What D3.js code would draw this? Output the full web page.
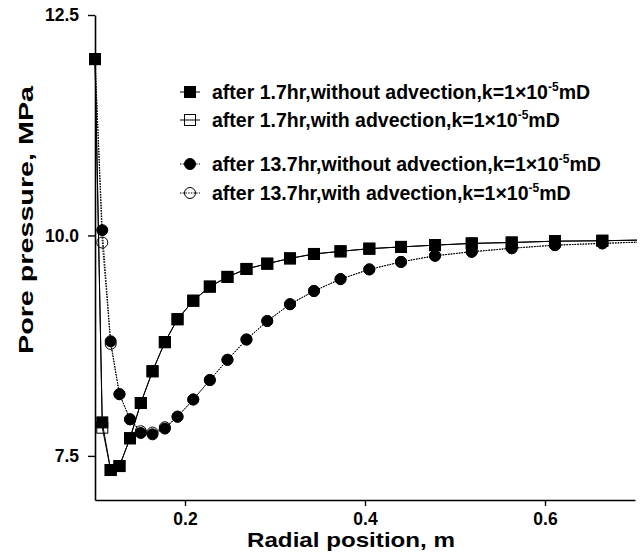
<!DOCTYPE html>
<html>
<head>
<meta charset="utf-8">
<script src="https://cdn.jsdelivr.net/npm/d3@7"></script>
<style>
  body { margin: 0; background: #fff; }
  svg { display: block; }
  text { font-family: Arial, "Liberation Sans", Helvetica, sans-serif; font-weight: bold; fill: #000; }
</style>
</head>
<body>
<svg id="chart" width="642" height="560"></svg>
<script>
// Radial positions of the computed nodes (m)
const radius = [0.1, 0.1081, 0.1174, 0.1272, 0.1389, 0.1509, 0.1639, 0.1776, 0.1917, 0.2092,
  0.2276, 0.2472, 0.2683, 0.2914, 0.3167, 0.3433, 0.3728, 0.4048, 0.44, 0.4778,
  0.5186, 0.563, 0.6111, 0.6637, 0.72];

// Pore pressure (MPa) after 1.7 hr
const p17NoAdv = [12.0, 7.88, 7.34, 7.385, 7.70, 8.10, 8.46, 8.79, 9.05, 9.26,
  9.42, 9.53, 9.62, 9.68, 9.74, 9.79, 9.82, 9.85, 9.87, 9.89,
  9.91, 9.92, 9.935, 9.94, 9.95];
const p17Adv = [12.0, 7.82, 7.34, 7.385, 7.70, 8.10, 8.46, 8.79, 9.05, 9.26,
  9.42, 9.53, 9.62, 9.68, 9.74, 9.79, 9.82, 9.85, 9.87, 9.89,
  9.91, 9.92, 9.935, 9.94, 9.95];

// Pore pressure (MPa) after 13.7 hr
const p137NoAdv = [12.0, 10.06, 8.80, 8.20, 7.915, 7.76, 7.745, 7.81, 7.945, 8.14,
  8.36, 8.59, 8.82, 9.03, 9.22, 9.37, 9.505, 9.615, 9.70, 9.77,
  9.815, 9.855, 9.89, 9.91, 9.93];
const p137Adv = [12.0, 9.92, 8.77, 8.20, 7.915, 7.78, 7.765, 7.825, 7.945, 8.14,
  8.36, 8.59, 8.82, 9.03, 9.22, 9.37, 9.505, 9.615, 9.70, 9.77,
  9.815, 9.855, 9.89, 9.91, 9.93];

const xTicks = [0.2, 0.4, 0.6];
const yTicks = [7.5, 10.0, 12.5];

const legendLabels = [
  "after 1.7hr,without advection,k=1\u00d710",
  "after 1.7hr,with advection,k=1\u00d710",
  "after 13.7hr,without advection,k=1\u00d710",
  "after 13.7hr,with advection,k=1\u00d710"
];
const legendExp = "-5";
const legendUnit = "mD";

const xTitle = "Radial position, m";
const yTitle = "Pore pressure, MPa";

// ---- layout ----
const svg = d3.select("#chart");
const x = d3.scaleLinear().domain([0.1, 0.7]).range([95, 635]);
const y = d3.scaleLinear().domain([7, 12.5]).range([500, 15]);

const series = [
  { values: p17Adv,    shape: "square", filled: false, dash: null },
  { values: p17NoAdv,  shape: "square", filled: true,  dash: null },
  { values: p137Adv,   shape: "circle", filled: false, dash: "1.5,1.2" },
  { values: p137NoAdv, shape: "circle", filled: true,  dash: "1.5,1.2" }
];
const legendSeries = [series[1], series[0], series[3], series[2]];

svg.append("defs").append("clipPath").attr("id", "plotClip")
  .append("rect").attr("x", 0).attr("y", 0).attr("width", 637).attr("height", 560);

const plot = svg.append("g").attr("clip-path", "url(#plotClip)");

const line = d3.line().x((d, i) => x(radius[i])).y(d => y(d));

function drawMarker(g, s, cx, cy) {
  if (s.shape === "square") {
    g.append("rect")
      .attr("x", cx - 5.5).attr("y", cy - 5.5)
      .attr("width", 11).attr("height", 11)
      .attr("fill", s.filled ? "#000" : "none")
      .attr("stroke", "#000").attr("stroke-width", 1);
  } else {
    g.append("circle")
      .attr("cx", cx).attr("cy", cy).attr("r", 5.5)
      .attr("fill", s.filled ? "#000" : "none")
      .attr("stroke", "#000").attr("stroke-width", 1);
  }
}

series.forEach(s => {
  plot.append("path")
    .datum(s.values)
    .attr("d", line)
    .attr("fill", "none")
    .attr("stroke", "#000")
    .attr("stroke-width", 1)
    .attr("stroke-dasharray", s.dash);
  const mg = plot.append("g");
  s.values.forEach((v, i) => drawMarker(mg, s, x(radius[i]), y(v)));
});

// ---- axes ----
const xAxis = svg.append("g")
  .attr("transform", "translate(0,500)")
  .call(d3.axisBottom(x).tickValues(xTicks).tickFormat(d3.format(".1f"))
    .tickSize(6).tickPadding(7).tickSizeOuter(0));
const yAxis = svg.append("g")
  .attr("transform", "translate(95,0)")
  .call(d3.axisLeft(y).tickValues(yTicks).tickFormat(d3.format(".1f"))
    .tickSize(7).tickPadding(9).tickSizeOuter(0));

[xAxis, yAxis].forEach(a => {
  a.attr("font-family", null).attr("font-size", 17);
  a.selectAll("path.domain").attr("stroke-width", 1.6);
  a.selectAll(".tick line").attr("stroke-width", 1.4);
  a.selectAll("text").attr("font-size", 17).style("font-size", "17.5px");
});

svg.append("text")
  .attr("x", 247).attr("y", 547)
  .attr("textLength", 208).attr("lengthAdjust", "spacingAndGlyphs")
  .style("font-size", "21px")
  .text(xTitle);

svg.append("text")
  .attr("transform", "translate(33,354) rotate(-90)")
  .attr("x", 0).attr("y", 0)
  .attr("textLength", 268).attr("lengthAdjust", "spacingAndGlyphs")
  .style("font-size", "21px")
  .text(yTitle);

// ---- legend ----
const legendRows = [92, 120, 164, 193];
legendSeries.forEach((s, i) => {
  const g = svg.append("g");
  const ly = legendRows[i];
  g.append("line")
    .attr("x1", 180).attr("x2", 200).attr("y1", ly).attr("y2", ly)
    .attr("stroke", "#000").attr("stroke-width", 1)
    .attr("stroke-dasharray", s.dash);
  drawMarker(g, s, 190, ly);
  const t = g.append("text")
    .attr("x", 212).attr("y", ly + 7)
    .style("font-size", "19.5px");
  t.append("tspan").text(legendLabels[i]);
  t.append("tspan").attr("dy", -8).style("font-size", "12px").text(legendExp);
  t.append("tspan").attr("dy", 8).text(legendUnit);
});
</script>
</body>
</html>
